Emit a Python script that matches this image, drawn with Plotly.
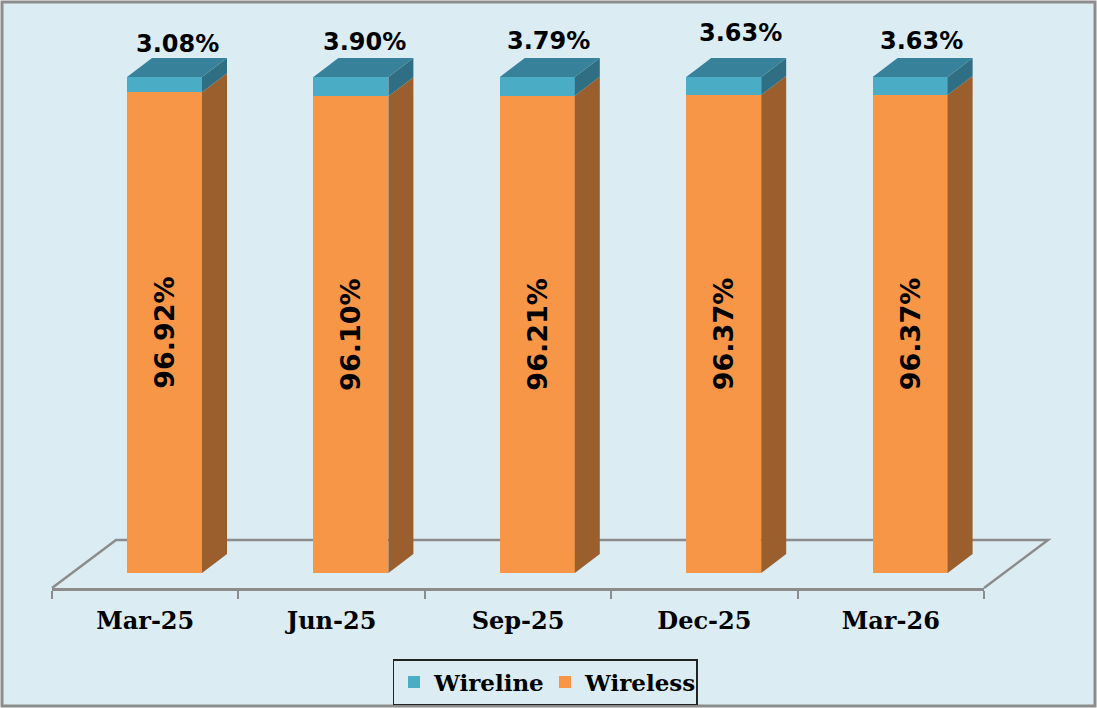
import plotly.graph_objects as go

# ---- data ----
categories = ["Mar-25", "Jun-25", "Sep-25", "Dec-25", "Mar-26"]
wireline = [3.08, 3.90, 3.79, 3.63, 3.63]
wireless = [96.92, 96.10, 96.21, 96.37, 96.37]
label_dx = [13, 14, 11, 17, 11]
label_dy = [33, 35, 36, 44, 36]

# ---- page geometry (pixels) ----
W, H = 1097, 708
PLOT_L, PLOT_R, AXIS_Y = 52, 984, 588
PX_PER_CAT = (PLOT_R - PLOT_L) / len(categories)
PX_PER_PCT = 4.96
BASE_LIFT = 15          # bar foot above the front axis line
BAR_PX = 75
DEPTH_X, DEPTH_Y = 25, 19
FLOOR_X, FLOOR_Y = 64, 48
BAR_SHIFT_PX = 19.3

ymin = -BASE_LIFT / PX_PER_PCT
ymax = ymin + AXIS_Y / PX_PER_PCT
xpos = [i + 0.5 + BAR_SHIFT_PX / PX_PER_CAT for i in range(len(categories))]
half = BAR_PX / PX_PER_CAT / 2
ddx = DEPTH_X / PX_PER_CAT
ddy = DEPTH_Y / PX_PER_PCT

C_WIRE, C_WIRE_TOP, C_WIRE_SIDE = "#4BACC6", "#37829A", "#306F83"
C_LESS, C_LESS_SIDE = "#F79646", "#9A5F2D"
GREY = "#8C8C8C"
BG = "#DBEDF3"


def px(x):
    return (x - PLOT_L) / (PLOT_R - PLOT_L)


def py(y):
    return (AXIS_Y - y) / AXIS_Y


def face(x, y, color):
    return go.Scatter(x=x, y=y, mode="lines", fill="toself", fillcolor=color,
                      line=dict(width=0, color=color), hoverinfo="skip",
                      showlegend=False, cliponaxis=False)


fig = go.Figure()
fig.add_bar(x=xpos, y=wireless, name="Wireless", width=BAR_PX / PX_PER_CAT,
            marker=dict(color=C_LESS, line=dict(width=0)),
            text=[f"{v:.2f}%" for v in wireless], textposition="inside",
            insidetextanchor="middle", textangle=-90, constraintext="none",
            insidetextfont=dict(family="DejaVu Sans", size=27, color="black", weight="bold"))
fig.add_bar(x=xpos, y=wireline, name="Wireline", width=BAR_PX / PX_PER_CAT,
            marker=dict(color=C_WIRE, line=dict(width=0)))

for x, low, up in zip(xpos, wireless, wireline):
    r = x + half
    l = x - half
    top = low + up
    fig.add_trace(face([r, r + ddx, r + ddx, r, r], [0, ddy, low + ddy, low, 0], C_LESS_SIDE))
    fig.add_trace(face([r, r + ddx, r + ddx, r, r], [low, low + ddy, top + ddy, top, low], C_WIRE_SIDE))
    fig.add_trace(face([l, r, r + ddx, l + ddx, l], [top, top, top + ddy, top + ddy, top], C_WIRE_TOP))

shapes = [dict(type="rect", xref="paper", yref="paper", layer="below",
               x0=px(2), x1=px(1095), y0=py(2), y1=py(706),
               fillcolor=BG, line=dict(color=GREY, width=3))]
n = len(categories)
fl_front = py(AXIS_Y)
fl_back = py(AXIS_Y - FLOOR_Y)
shapes.append(dict(type="path", xref="paper", yref="paper", layer="below",
                   path=f"M {px(PLOT_L)} {fl_front} L {px(PLOT_L + FLOOR_X)} {fl_back} "
                        f"L {px(PLOT_R + FLOOR_X)} {fl_back} L {px(PLOT_R)} {fl_front}",
                   line=dict(color=GREY, width=2.5)))

annotations = [dict(x=x, y=lo + up, xref="x", yref="y", text=f"{up:.2f}%", showarrow=False,
                    xshift=dx, yshift=dy,
                    font=dict(family="DejaVu Sans", size=24, color="black", weight="bold"))
               for x, lo, up, dx, dy in zip(xpos, wireless, wireline, label_dx, label_dy)]

fig.update_layout(
    width=W, height=H, autosize=False,
    margin=dict(l=PLOT_L, r=W - PLOT_R, t=0, b=H - AXIS_Y, pad=0),
    paper_bgcolor="white", plot_bgcolor="rgba(0,0,0,0)",
    barmode="stack", shapes=shapes, annotations=annotations,
    showlegend=True,
    legend=dict(orientation="h", traceorder="reversed", x=(545 - PLOT_L) / (PLOT_R - PLOT_L),
                xanchor="center", y=py(682), yanchor="middle", entrywidth=106, entrywidthmode="pixels",
                bgcolor="rgba(0,0,0,0)", bordercolor="#222222", borderwidth=1.5,
                font=dict(family="DejaVu Serif", size=23, color="black", weight="bold")),
    xaxis=dict(range=[0, n], tickmode="array", tickvals=[i + 0.5 for i in range(n)],
               ticktext=categories, ticks="", showgrid=False, zeroline=False,
               showline=True, linecolor=GREY, linewidth=2.5, ticklabelstandoff=9,
               tickfont=dict(family="DejaVu Serif", size=24, color="black", weight="bold"),
               minor=dict(tickmode="array", tickvals=list(range(n + 1)), ticks="outside",
                          ticklen=8, tickwidth=2, tickcolor=GREY, showgrid=False)),
    yaxis=dict(range=[ymin, ymax], visible=False),
)

fig.write_html("out.html", config={"displayModeBar": False},
               post_script="document.body.style.margin='0';")
